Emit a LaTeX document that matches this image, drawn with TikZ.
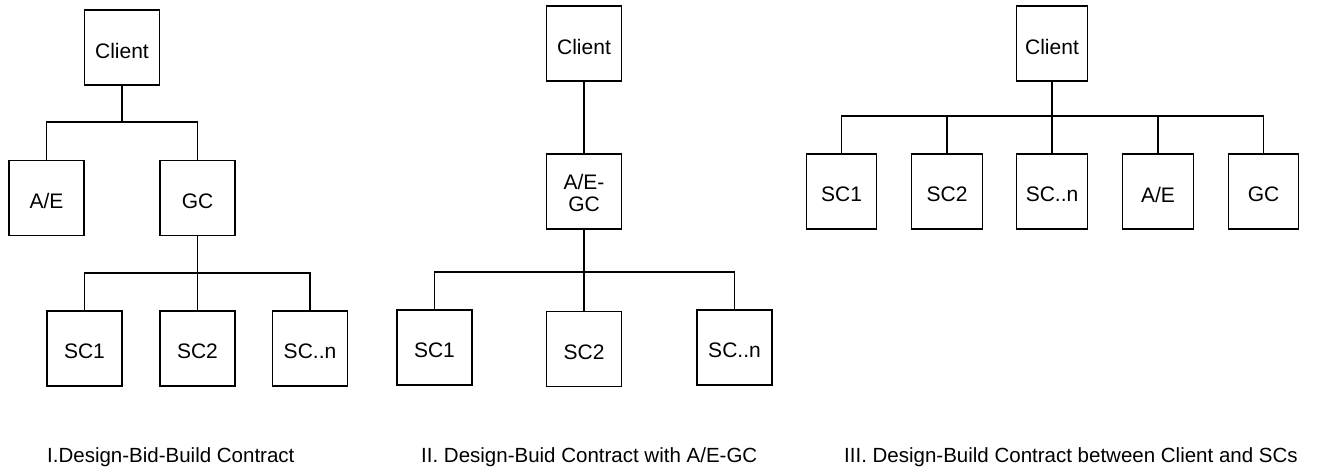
\documentclass[tikz,border=0pt]{standalone}
\usepackage{fontspec}
\setmainfont{Liberation Sans}
% box labels sit a little below the geometric centre of their boxes
\newcommand\lbl[2][-3pt]{\raisebox{#1}[\height][\depth]{#2}}
\begin{document}
\begin{tikzpicture}[x=1pt,y=-1pt,
  box/.style={draw, line width=1.4pt, minimum width=75pt, minimum height=75pt,
    inner sep=0pt, align=center, font=\fontsize{21}{22}\selectfont},
  nbox/.style={box, minimum width=70.5pt},
  link/.style={line width=1.4pt},
  caption/.style={font=\fontsize{20.5}{23}\selectfont, inner sep=0pt, anchor=base west}]
\useasboundingbox (0,0) rectangle (1338,470);

% I. Design-Bid-Build
\node[box] (c1) at (122,47.5) {\lbl{Client}};
\node[box] (ae1) at (46.5,198) {\lbl{A/E}};
\node[box] (gc1) at (197.5,198) {\lbl{GC}};
\node[box] (s11) at (84.5,348.5) {\lbl{SC1}};
\node[box] (s12) at (197.5,348.5) {\lbl{SC2}};
\node[box] (s1n) at (310,348.5) {\lbl{SC..n}};
\coordinate (b1) at (122,122);
\coordinate (b2) at (197.5,273);
\draw[link] (c1.south) -- (b1);
\draw[link] (ae1.north) |- (b1) -| (gc1.north);
\draw[link] (gc1.south) -- (s12.north);
\draw[link] (s11.north) |- (b2) -| (s1n.north);

% II. Design-Build with A/E-GC
\node[box] (c2) at (584,43.5) {\lbl{Client}};
\node[box] (aegc) at (584,191.5) {\lbl[-5pt]{\begin{tabular}{@{}c@{}}A/E-\\GC\end{tabular}}};
\node[box] (s21) at (434.5,347.5) {\lbl{SC1}};
\node[box] (s22) at (584,349) {\lbl{SC2}};
\node[box] (s2n) at (734.5,347.5) {\lbl{SC..n}};
\coordinate (b3) at (584,272);
\draw[link] (c2.south) -- (aegc.north);
\draw[link] (aegc.south) -- (s22.north);
\draw[link] (s21.north) |- (b3) -| (s2n.north);

% III. Design-Build between Client and SCs
\node[nbox] (c3) at (1052,43.5) {\lbl{Client}};
\node[nbox] (t1) at (841.5,191.5) {\lbl{SC1}};
\node[nbox] (t2) at (947,191.5) {\lbl{SC2}};
\node[nbox] (t3) at (1052,191.5) {\lbl{SC..n}};
\node[nbox] (t4) at (1158,191.5) {\lbl{A/E}};
\node[nbox] (t5) at (1263.5,191.5) {\lbl{GC}};
\coordinate (b4) at (1052,116);
\draw[link] (c3.south) -- (t3.north);
\draw[link] (t1.north) |- (b4) -| (t5.north);
\draw[link] (t2.north) -- (t2.north |- b4);
\draw[link] (t4.north) -- (t4.north |- b4);

% captions
\node[caption] (cap1) at (47,462) {I.Design-Bid-Build Contract};
\node[caption] (cap2) at (421,462) {II. Design-Buid Contract with A/E-GC};
\node[caption] (cap3) at (844,462) {III. Design-Build Contract between Client and SCs};
\end{tikzpicture}
\end{document}
